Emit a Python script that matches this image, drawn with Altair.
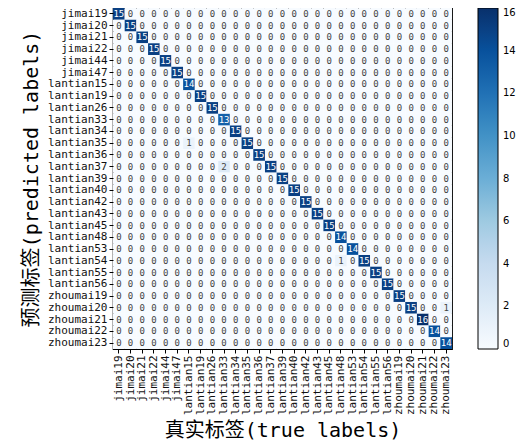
import altair as alt
import pandas as pd

categories = [
    "jimai19", "jimai20", "jimai21", "jimai22", "jimai44", "jimai47",
    "lantian15", "lantian19", "lantian26", "lantian33", "lantian34", "lantian35",
    "lantian36", "lantian37", "lantian39", "lantian40", "lantian42", "lantian43",
    "lantian45", "lantian48", "lantian53", "lantian54", "lantian55", "lantian56",
    "zhoumai19", "zhoumai20", "zhoumai21", "zhoumai22", "zhoumai23",
]
diagonal = [15, 15, 15, 15, 15, 15, 14, 15, 15, 13, 15, 15, 15, 15, 15,
            15, 15, 15, 15, 14, 14, 15, 15, 15, 15, 15, 16, 14, 14]
off_pred = ["lantian35", "lantian37", "lantian54", "zhoumai20"]
off_true = ["lantian15", "lantian33", "lantian48", "zhoumai23"]
off_value = [1, 2, 1, 1]

blues = ["#f7fbff", "#deebf7", "#c6dbef", "#9ecae1", "#6baed6",
         "#4292c6", "#2171b5", "#08519c", "#08306b"]
cbar_ticks = [0, 2, 4, 6, 8, 10, 12, 14, 16]

extra = {(p, t): v for p, t, v in zip(off_pred, off_true, off_value)}
rows = []
for i, p in enumerate(categories):
    for j, t in enumerate(categories):
        v = diagonal[i] if i == j else extra.get((p, t), 0)
        rows.append({"pred": p, "true": t, "value": v})
df = pd.DataFrame(rows)

FONT = "DejaVu Sans Mono, Noto Sans CJK SC, sans-serif"

base = alt.Chart(df).encode(
    x=alt.X("true:N", sort=categories, scale=alt.Scale(paddingInner=0, paddingOuter=0),
            axis=alt.Axis(title="真实标签(true labels)", labelAngle=270,
                          labelFont=FONT, labelFontSize=11, labelColor="#111111",
                          titleFont=FONT, titleFontSize=20, titleFontWeight="normal",
                          titleColor="black", titlePadding=6,
                          tickColor="black", tickSize=4, labelPadding=2,
                          domain=False, grid=False)),
    y=alt.Y("pred:N", sort=categories, scale=alt.Scale(paddingInner=0, paddingOuter=0),
            axis=alt.Axis(title="预测标签(predicted labels)",
                          labelFont=FONT, labelFontSize=11, labelColor="#111111",
                          titleFont=FONT, titleFontSize=20, titleFontWeight="normal",
                          titleColor="black", titlePadding=6,
                          tickColor="black", tickSize=4, labelPadding=2,
                          domain=False, grid=False)),
)

heat = base.mark_rect().encode(
    color=alt.Color("value:Q",
                    scale=alt.Scale(domain=cbar_ticks, range=blues),
                    legend=alt.Legend(title=None, orient="none", legendX=365, legendY=0,
                                      direction="vertical", gradientLength=341,
                                      gradientThickness=20, gradientStrokeColor="black",
                                      gradientStrokeWidth=1, values=cbar_ticks,
                                      labelFontSize=10, labelColor="black",
                                      labelFont="DejaVu Sans", labelOffset=5, padding=0))
)

text = base.mark_text(font=FONT, fontSize=9).encode(
    text="value:Q",
    color=alt.condition("datum.value > 8", alt.value("white"), alt.value("#444444")),
)

chart = (heat + text).properties(
    width=339, height=341,
    autosize=alt.AutoSizeParams(type="none"),
    padding={"left": 105, "top": 0, "right": 64, "bottom": 91},
).configure_view(stroke="black", strokeWidth=1.2)

chart.save("out.html", embed_options={"renderer": "svg", "actions": False})
